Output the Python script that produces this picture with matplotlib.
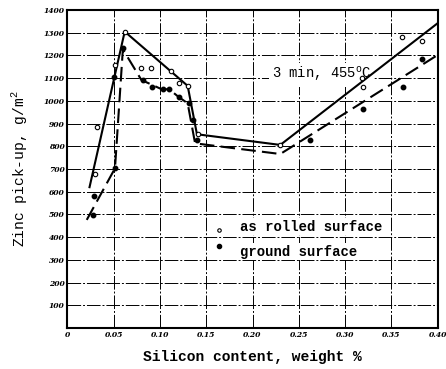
import matplotlib
matplotlib.use("Agg")
import matplotlib.pyplot as plt

# ---- data ----
rolled_x = [0.030, 0.032, 0.052, 0.062, 0.080, 0.090, 0.112, 0.121, 0.130, 0.141, 0.230, 0.318, 0.319, 0.361, 0.383]
rolled_y = [677, 884, 1158, 1305, 1143, 1143, 1132, 1077, 1066, 853, 806, 1102, 1063, 1283, 1264]
ground_x = [0.028, 0.029, 0.0515, 0.050, 0.060, 0.082, 0.091, 0.103, 0.110, 0.121, 0.131, 0.136, 0.140, 0.262, 0.319, 0.362, 0.383]
ground_y = [498, 581, 703, 1107, 1232, 1092, 1060, 1051, 1051, 1018, 989, 916, 828, 828, 963, 1063, 1184]

rolled_line_x = [0.024, 0.062, 0.130, 0.140, 0.230, 0.400]
rolled_line_y = [620, 1305, 1066, 853, 806, 1342]
ground_line_x = [0.021, 0.0515, 0.060, 0.080, 0.102, 0.110, 0.120, 0.130, 0.138, 0.230, 0.400]
ground_line_y = [476, 703, 1227, 1092, 1051, 1051, 1018, 989, 813, 766, 1202]

xticks = [0, 0.05, 0.10, 0.15, 0.20, 0.25, 0.30, 0.35, 0.40]
xtick_labels = ["0", "0.05", "0.10", "0.15", "0.20", "0.25", "0.30", "0.35", "0.40"]
yticks = list(range(100, 1500, 100))
ytick_labels = [str(v) for v in yticks]

fig = plt.figure(figsize=(4.46, 3.69), dpi=100)
ax = fig.add_axes([0.1509, 0.1111, 0.9814 - 0.1509, 0.9729 - 0.1111])
ax.set_xlim(0, 0.40)
ax.set_ylim(0, 1400)

# grid
for yv in yticks:
    ax.axhline(yv, color="black", lw=0.7, ls=(0, (14, 2, 2, 2)), zorder=1)
for xv in xticks[1:-1]:
    ax.axvline(xv, color="black", lw=0.7, ls=(0, (14, 2, 2, 2)), zorder=1)

ax.plot(rolled_line_x, rolled_line_y, color="black", lw=1.5, zorder=3)
ax.plot(ground_line_x, ground_line_y, color="black", lw=1.5, ls=(0, (7, 3)), zorder=3)
ax.plot(rolled_x, rolled_y, ls="none", marker="o", ms=3.2, mfc="white", mec="black", mew=0.8, zorder=4)
ax.plot(ground_x, ground_y, ls="none", marker="o", ms=3.2, mfc="black", mec="black", zorder=4)

ax.set_xticks(xticks)
ax.set_xticklabels(xtick_labels, fontsize=5.5, fontweight="bold", fontstyle="italic", family="DejaVu Serif")
ax.set_yticks(yticks)
ax.set_yticklabels(ytick_labels, fontsize=5.5, fontweight="bold", fontstyle="italic", family="DejaVu Serif")
ax.tick_params(length=0, pad=2)
for s in ax.spines.values():
    s.set_linewidth(1.5)

ax.text(0.221, 1114, "3 min, 455$^{\\mathregular{o}}$C", fontsize=10, family="Liberation Mono", va="center",
        bbox=dict(fc="white", ec="none", pad=2), zorder=2)

# legend
ax.plot([0.164], [431], ls="none", marker="o", ms=2.5, mfc="white", mec="black", mew=0.8, zorder=4)
ax.plot([0.164], [361], ls="none", marker="o", ms=3, mfc="black", mec="black", zorder=4)
ax.text(0.1866, 446, "as rolled surface", fontsize=10, family="Liberation Mono", fontweight="bold",
        va="center", bbox=dict(fc="white", ec="none", pad=1))
ax.text(0.1866, 336, "ground surface", fontsize=10, family="Liberation Mono", fontweight="bold",
        va="center", bbox=dict(fc="white", ec="none", pad=1))

ax.set_xlabel("Silicon content, weight %", fontsize=10.5, family="Liberation Mono", fontweight="bold", labelpad=8)
ax.set_ylabel("Zinc pick-up, g/m$^{\\mathregular{2}}$", fontsize=10.5, family="Liberation Mono", labelpad=10)

fig.savefig("out.png", dpi=100)
